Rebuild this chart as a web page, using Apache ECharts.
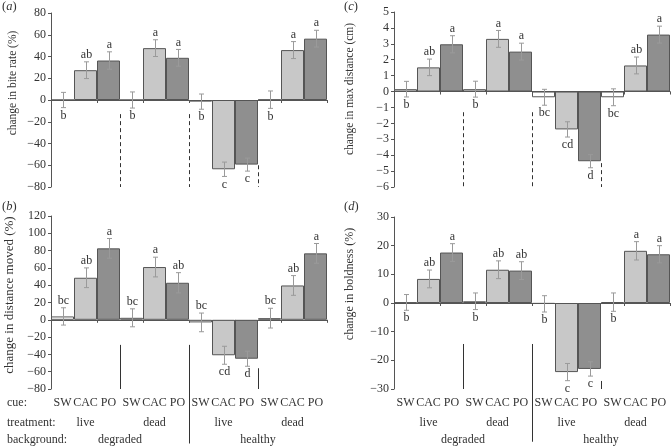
<!DOCTYPE html>
<html><head><meta charset="utf-8">
<script src="https://cdn.jsdelivr.net/npm/echarts@6/dist/echarts.min.js"></script>
<style>html,body{margin:0;padding:0;background:#fff}#c{width:672px;height:446px}</style>
</head><body><div id="c"></div>
<script>
// ---------- data ----------
const cues = ['SW','CAC','PO','SW','CAC','PO','SW','CAC','PO','SW','CAC','PO'];
const treatments = ['live','dead','live','dead'];
const backgrounds = ['degraded','healthy'];

// (a) change in bite rate (%)
const biteRate    = [0, 27.4, 36.3, 0, 47.7, 38.8, -1.5, -63.7, -59.4, 0.3, 45.9, 56.4];
const biteRateErr = [7, 7.7, 8, 7.4, 7.7, 7.7, 7, 6.6, 6, 8, 7.8, 7.7];
const biteRateLetters = ['b','ab','a','b','a','a','b','c','c','b','a','a'];
const biteRateTicks = {min:-80, max:80, interval:20};

// (b) change in distance moved (%)
const distMoved    = [3.9, 48.6, 82.6, 2.3, 61, 42.8, -3, -41, -45, 1.9, 39.7, 76.8];
const distMovedErr = [10, 11.4, 11.4, 10.4, 11.4, 11.7, 10.8, 10.4, 8.7, 11.4, 11.4, 11.4];
const distMovedLetters = ['bc','ab','a','bc','a','ab','bc','cd','d','bc','ab','a'];
const distMovedTicks = {min:-80, max:120, interval:20};

// (c) change in max distance (cm)
const maxDist    = [0.15, 1.52, 2.97, 0.15, 3.31, 2.51, -0.36, -2.38, -4.38, -0.36, 1.64, 3.58];
const maxDistErr = [0.49, 0.52, 0.54, 0.5, 0.53, 0.53, 0.5, 0.48, 0.41, 0.53, 0.53, 0.53];
const maxDistLetters = ['b','ab','a','b','a','a','bc','cd','d','bc','ab','a'];
const maxDistTicks = {min:-6, max:5, interval:1};

// (d) change in boldness (%)
const boldness    = [0.2, 8.4, 17.6, 0.6, 11.6, 11.3, -0.3, -24.1, -23, 0.3, 18.2, 17];
const boldnessErr = [2.75, 3.1, 3.1, 2.9, 3.1, 3.1, 2.85, 3, 2.5, 3.2, 3.2, 3];
const boldnessLetters = ['b','ab','a','b','ab','ab','b','c','c','b','a','a'];
const boldnessTicks = {min:-30, max:30, interval:10};

// group divider lines: [after bar index, from value, to value]
const biteRateDividers  = [[2, -13, -80], [5, -13, -80], [8, -60, -80]];
const distMovedDividers = [[2, -29, -80], [5, -29, -143], [8, -56, -80]];
const maxDistDividers   = [[2, -1.3, -6], [5, -1.3, -6], [8, -4.5, -6]];
const boldnessDividers  = [[2, -14.3, -30], [5, -14.3, -48.4], [8, -27.2, -30]];

// ---------- style ----------
const FONT = '"Liberation Serif","DejaVu Serif",serif';
const TXT = '#333';
const AX = '#555';
const cueColor = {SW:'#ffffff', CAC:'#c8c8c8', PO:'#8f8f8f'};

const panels = [
  {tag:'a', title:'change in bite rate (%)', vals:biteRate, errs:biteRateErr, letters:biteRateLetters, ticks:biteRateTicks,
   dividers:biteRateDividers, dashed:true, swBelow:true, labels:false,
   grid:{left:51, top:13, width:276, height:174}, titlePos:[13, 83], titleSize:11.5, tagPos:[2, 7]},
  {tag:'b', title:'change in distance moved (%)', vals:distMoved, errs:distMovedErr, letters:distMovedLetters, ticks:distMovedTicks,
   dividers:distMovedDividers, dashed:false, swBelow:false, labels:true,
   grid:{left:51, top:216, width:276, height:173}, titlePos:[10, 295], titleSize:13, tagPos:[2, 207]},
  {tag:'c', title:'change in max distance (cm)', vals:maxDist, errs:maxDistErr, letters:maxDistLetters, ticks:maxDistTicks,
   dividers:maxDistDividers, dashed:true, swBelow:true, labels:false,
   grid:{left:394, top:12, width:276, height:175}, titlePos:[350, 89], titleSize:11.5, tagPos:[344, 7]},
  {tag:'d', title:'change in boldness (%)', vals:boldness, errs:boldnessErr, letters:boldnessLetters, ticks:boldnessTicks,
   dividers:boldnessDividers, dashed:false, swBelow:true, labels:true,
   grid:{left:394, top:217, width:276, height:172}, titlePos:[350, 284], titleSize:12, tagPos:[344, 207]},
];

const option = {
  animation:false,
  backgroundColor:'#fff',
  grid:[], xAxis:[], yAxis:[], series:[], graphic:[]
};

const minus = v => String(v).replace('-', '\u2212');

panels.forEach((p, gi) => {
  option.grid.push(Object.assign({containLabel:false}, p.grid));
  option.yAxis.push({
    type:'value', gridIndex:gi, min:p.ticks.min, max:p.ticks.max, interval:p.ticks.interval,
    axisLine:{show:true, lineStyle:{color:AX}},
    axisTick:{show:true, length:3, lineStyle:{color:AX}},
    splitLine:{show:false},
    axisLabel:{color:TXT, fontFamily:FONT, fontSize:12, margin:5, formatter:minus}
  });
  const zeroAxis = option.xAxis.length;
  option.xAxis.push({
    type:'category', gridIndex:gi, data:cues,
    axisLine:{show:true, onZero:true, lineStyle:{color:AX}},
    axisTick:{show:true, length:3, lineStyle:{color:AX}},
    axisLabel:{show:false}, splitLine:{show:false}
  });
  if (p.labels) {
    option.xAxis.push({
      type:'category', gridIndex:gi, data:cues, position:'bottom',
      axisLine:{show:false, onZero:false}, axisTick:{show:false},
      axisLabel:{color:TXT, fontFamily:FONT, fontSize:12, margin:8, interval:0}
    });
    option.xAxis.push({
      type:'category', gridIndex:gi, data:treatments, position:'bottom', offset:20,
      axisLine:{show:false, onZero:false}, axisTick:{show:false},
      axisLabel:{color:TXT, fontFamily:FONT, fontSize:12, margin:8, interval:0}
    });
    option.xAxis.push({
      type:'category', gridIndex:gi, data:backgrounds, position:'bottom', offset:37,
      axisLine:{show:false, onZero:false}, axisTick:{show:false},
      axisLabel:{color:TXT, fontFamily:FONT, fontSize:12, margin:8, interval:0}
    });
  }
  // bars
  option.series.push({
    type:'bar', xAxisIndex:zeroAxis, yAxisIndex:gi, barWidth:'100%',
    data:p.vals.map((v,i) => ({value:v, itemStyle:{color:cueColor[cues[i]], borderColor:AX, borderWidth:1}})),
    z:2
  });
  // error bars + letters
  option.series.push({
    type:'custom', xAxisIndex:zeroAxis, yAxisIndex:gi, z:4,
    data:p.vals.map((v,i) => [i, v, p.errs[i]]),
    renderItem:(params, api) => {
      const i = api.value(0), v = api.value(1), e = api.value(2);
      const t = api.coord([i, v + e]), b = api.coord([i, v - e]);
      const x = Math.round(t[0]) + 0.5, cap = 2.5;
      const st = {stroke:'#9a9a9a', lineWidth:1, fill:null};
      const letter = p.letters[params.dataIndex];
      const below = (cues[i] === 'SW') ? p.swBelow : v < 0;
      return {type:'group', children:[
        {type:'line', shape:{x1:x, y1:t[1], x2:x, y2:b[1]}, style:st},
        {type:'line', shape:{x1:x-cap, y1:t[1], x2:x+cap, y2:t[1]}, style:st},
        {type:'line', shape:{x1:x-cap, y1:b[1], x2:x+cap, y2:b[1]}, style:st},
        {type:'text', style:{text:letter, x:x, y: below ? b[1] + 2 : t[1] - 1,
          align:'center', verticalAlign: below ? 'top' : 'bottom',
          font:'12px ' + FONT, fill:TXT}}
      ]};
    }
  });
  // dividers
  option.series.push({
    type:'custom', xAxisIndex:zeroAxis, yAxisIndex:gi, z:3, clip:false,
    data:p.dividers.map(d => [d[0], d[1], d[2]]),
    renderItem:(params, api) => {
      const k = api.value(0);
      const bw = api.size([1, 0])[0];
      const a = api.coord([k, api.value(1)]), c = api.coord([k, api.value(2)]);
      const x = Math.round(a[0] + bw / 2) + 0.5;
      return {type:'line', shape:{x1:x, y1:a[1], x2:x, y2:c[1]},
        style:{stroke:'#333', lineWidth:1, lineDash: p.dashed ? [4, 3] : null}};
    }
  });
  // y title
  option.graphic.push({type:'text', x:p.titlePos[0], y:p.titlePos[1], rotation:Math.PI/2,
    style:{text:p.title, align:'center', verticalAlign:'middle', font:p.titleSize + 'px ' + FONT, fill:TXT}});
  // panel tag
  option.graphic.push({type:'text', x:p.tagPos[0], y:p.tagPos[1],
    style:{text:'{n|(}{i|' + p.tag + '}{n|)}', verticalAlign:'middle',
      rich:{n:{fontFamily:FONT, fontSize:12.5, fill:TXT}, i:{fontFamily:FONT, fontSize:12.5, fontStyle:'italic', fill:TXT}}}});
});

// row labels on panel (b)
[['cue:', 403], ['treatment:', 423], ['background:', 440]].forEach(r => {
  option.graphic.push({type:'text', x:7, y:r[1],
    style:{text:r[0], verticalAlign:'middle', font:'12px ' + FONT, fill:TXT}});
});

const chart = echarts.init(document.getElementById('c'));
chart.setOption(option);
</script>
</body></html>
